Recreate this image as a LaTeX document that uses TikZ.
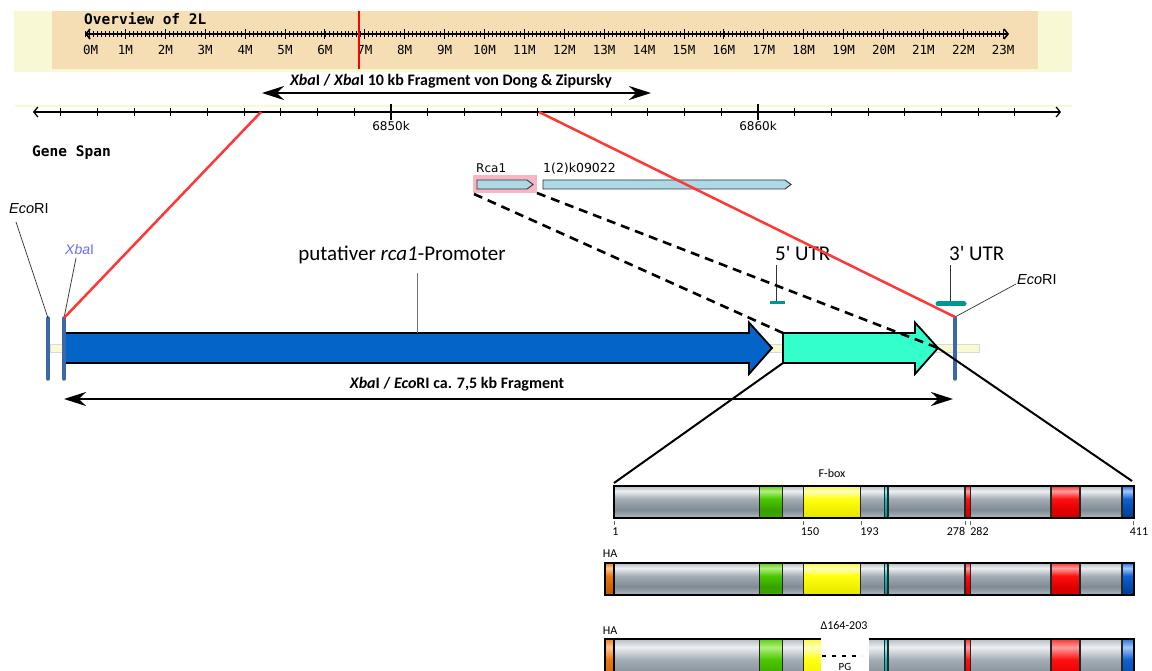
\documentclass[tikz,border=0pt]{standalone}
\usepackage{fontspec}
\setmainfont{Carlito}
\newfontfamily\monof{DejaVu Sans Mono}
\newfontfamily\dvs{DejaVu Sans}
\newfontfamily\arialf{Liberation Sans}
\usetikzlibrary{arrows.meta}
\definecolor{paleyel}{RGB}{249,248,212}
\definecolor{tanc}{RGB}{245,222,180}
\definecolor{genblue}{RGB}{173,216,230}
\definecolor{hlpink}{RGB}{246,182,196}
\definecolor{arrblue}{RGB}{5,100,200}
\definecolor{arrcyan}{RGB}{51,255,204}
\definecolor{markblue}{RGB}{60,105,165}
\definecolor{redln}{RGB}{255,55,55}
\definecolor{tealc}{RGB}{0,150,150}
\definecolor{xbacol}{RGB}{107,107,255}
\definecolor{paleband}{RGB}{250,250,210}
% bar shading colours
\definecolor{gA}{HTML}{B3BAC1}\definecolor{gB}{HTML}{7F8A94}\definecolor{gC}{HTML}{A5ADB5}\definecolor{gD}{HTML}{EDF0F2}\definecolor{gE}{HTML}{B5BCC3}
\definecolor{nA}{HTML}{3FA800}\definecolor{nB}{HTML}{38A000}\definecolor{nC}{HTML}{4CC800}\definecolor{nD}{HTML}{B0F080}\definecolor{nE}{HTML}{5CD010}
\definecolor{yA}{HTML}{E6E600}\definecolor{yB}{HTML}{F0F000}\definecolor{yC}{HTML}{FFFF10}\definecolor{yD}{HTML}{FFFFC0}\definecolor{yE}{HTML}{F8F840}
\definecolor{rA}{HTML}{D00000}\definecolor{rB}{HTML}{E00000}\definecolor{rC}{HTML}{FF1010}\definecolor{rD}{HTML}{FFA0A0}\definecolor{rE}{HTML}{FF3030}
\definecolor{bA}{HTML}{003A90}\definecolor{bB}{HTML}{004AB0}\definecolor{bC}{HTML}{1060D0}\definecolor{bD}{HTML}{A0C8FF}\definecolor{bE}{HTML}{3070D8}
\definecolor{oA}{HTML}{C05800}\definecolor{oB}{HTML}{D06400}\definecolor{oC}{HTML}{E87810}\definecolor{oD}{HTML}{FFC890}\definecolor{oE}{HTML}{E88020}
\definecolor{cA}{HTML}{009A9A}\definecolor{cB}{HTML}{00A8A8}\definecolor{cC}{HTML}{00C8C8}\definecolor{cD}{HTML}{90F0F0}\definecolor{cE}{HTML}{20C0C0}
\newcommand\barshade[6]{\pgfdeclareverticalshading{#1}{100bp}{color(0bp)=(#2); color(25bp)=(#2); color(38bp)=(#3); color(55bp)=(#4); color(67bp)=(#5); color(75bp)=(#6); color(100bp)=(#6)}}
\barshade{shgrey}{gA}{gB}{gC}{gD}{gE}
\barshade{shgreen}{nA}{nB}{nC}{nD}{nE}
\barshade{shyellow}{yA}{yB}{yC}{yD}{yE}
\barshade{shred}{rA}{rB}{rC}{rD}{rE}
\barshade{shblue}{bA}{bB}{bC}{bD}{bE}
\barshade{shorange}{oA}{oB}{oC}{oD}{oE}
\barshade{shcyan}{cA}{cB}{cC}{cD}{cE}
\newcommand\pseg[5]{\shade[shading=#5] (#1,#3) rectangle (#2,#4); \draw[segline] (#1,#3) rectangle (#2,#4);}
\newcommand\prow[2]{%
  \foreach \a/\b/\s in {614/759.5/shgrey, 759.5/782.5/shgreen, 782.5/803.3/shgrey, 803.3/860.6/shyellow, 860.6/884.5/shgrey, 884.5/888/shcyan, 888/965/shgrey, 965/970.5/shred, 970.5/1051/shgrey, 1051/1080/shred, 1080/1122/shgrey, 1122/1134/shblue}{\pseg{\a}{\b}{#1}{#2}{\s}}%
  \draw[line width=1.6pt] (614,#1) rectangle (1134,#2);}
\tikzset{
  lbl/.style={inner sep=0pt, anchor=base},
  segline/.style={draw=black!85, line width=1.3pt},
  marker/.style={draw=markblue, line width=3.5pt, line cap=round},
  zoomln/.style={draw=redln, line width=2.5pt},
  dashln/.style={draw=black, line width=2.6pt, dash pattern=on 9pt off 6pt},
  expln/.style={draw=black, line width=2pt},
  leader/.style={draw=black!80, line width=0.7pt},
  fragarrow/.style={line width=2.2pt, {Stealth[length=22pt,width=14pt]}-{Stealth[length=22pt,width=14pt]}},
  rulerarrow/.style={{Straight Barb[length=4pt,width=10pt]}-{Straight Barb[length=4pt,width=10pt]}},
  genebox/.style={draw=black!80, fill=genblue, line width=0.9pt},
  bigarrow/.style={draw=black, line width=1.8pt, line join=miter},
}
\begin{document}
\begin{tikzpicture}[x=1pt,y=-1pt]
\useasboundingbox (0,0) rectangle (1152,671);
\clip (0,0) rectangle (1152,671);
\fill[white] (0,0) rectangle (1152,671);

% ---------- overview band ----------
\fill[paleyel] (14,11) rectangle (1072,72);
\fill[tanc] (52,11) rectangle (1038,69);
\node[lbl, anchor=base west, font=\monof\bfseries\fontsize{14.5}{15}\selectfont] (ovt) at (84,25) {Overview of 2L};
\coordinate (ovL) at (85,34);
\coordinate (ovR) at (1009,34);
\draw[line width=1.6pt, rulerarrow] (ovL) -- (ovR);
\foreach \i in {0,...,229} {\draw[line width=0.7pt] ({85.5+\i*39.9/10},31) -- ({85.5+\i*39.9/10},37);}
\foreach \i in {1,...,23} {\draw[line width=1pt] ({85.5+\i*39.9},29) -- ({85.5+\i*39.9},39);}
\node[lbl, anchor=base west, font=\monof\fontsize{12.5}{13}\selectfont] at (83,55) {0M};
\foreach \i in {1,...,23} {\node[lbl, font=\monof\fontsize{12.5}{13}\selectfont] at ({85.5+\i*39.9},55) {\i M};}
\draw[red, line width=2.6pt] (359,11) -- (359,69);

% ---------- Dong & Zipursky fragment ----------
\coordinate (fragL) at (262,93);
\coordinate (fragR) at (651,93);
\draw[fragarrow] (fragL) -- (fragR);
\node[lbl, font=\bfseries\fontsize{16}{16}\selectfont] (fragt) at (451,86) {\textit{Xba}I / \textit{Xba}I 10 kb Fragment von Dong \& Zipursky};

% ---------- kb ruler ----------
\draw[paleyel, line width=2pt] (15,106) -- (1072,106);
\coordinate (kbL) at (33,112);
\coordinate (kbR) at (1061,112);
\draw[line width=1.3pt, rulerarrow] (kbL) -- (kbR);
\foreach \i in {-9,...,17} {\draw[line width=0.9pt] ({391+\i*36.7},108) -- ({391+\i*36.7},116);}
\draw[line width=1.1pt] (391,104) -- (391,120);
\draw[line width=1.1pt] (758,104) -- (758,120);
\node[lbl, font=\dvs\fontsize{12}{12}\selectfont] at (391,131) {6850k};
\node[lbl, font=\dvs\fontsize{12}{12}\selectfont] at (758,131) {6860k};
\coordinate (kbA) at (261,112);
\coordinate (kbB) at (539,112);

% ---------- gene span ----------
\node[lbl, anchor=base west, font=\monof\bfseries\fontsize{14.5}{15}\selectfont] at (32,157) {Gene Span};
\fill[hlpink] (473,175) rectangle (537,193);
\coordinate (hlBL) at (474,194);
\coordinate (hlBR) at (537,193);
\draw[genebox] (477,180) -- (527,180) -- (533,184.5) -- (527,189) -- (477,189) -- cycle;
\draw[genebox] (543,180) -- (785,180) -- (791,184.5) -- (785,189) -- (543,189) -- cycle;
\node[lbl, anchor=base west, font=\dvs\fontsize{12}{12}\selectfont] at (476,173) {Rca1};
\node[lbl, anchor=base west, font=\dvs\fontsize{12.5}{12}\selectfont] at (543,173) {1(2)k09022};

% ---------- gene map ----------
\draw[fill=paleband, draw=black!15, line width=0.5pt] (50,344) rectangle (979,352);
\draw[bigarrow, fill=arrblue] (65,333) -- (749,333) -- (749,322.5) -- (772,348) -- (749,374) -- (749,363) -- (65,363) -- cycle;
\draw[bigarrow, fill=arrcyan] (783,333) -- (915,333) -- (915,322.5) -- (938,348) -- (915,374) -- (915,363) -- (783,363) -- cycle;
\coordinate (cyTL) at (783,333);
\coordinate (cyBL) at (783,363);
\coordinate (cyTip) at (938,348);
\coordinate (ecoL) at (48,318);
\coordinate (xbaM) at (64,318);
\coordinate (ecoR) at (955,317);
\draw[marker] (48,318) -- (48,379);
\draw[marker] (64,318) -- (64,379);
\draw[marker] (955,318) -- (955,379);

% labels of the map
\node[lbl, font=\fontsize{21}{21}\selectfont] (prom) at (402,261) {putativer \textit{rca1}-Promoter};
\draw[draw=black!55, line width=0.7pt] (417,273) -- (417,333);
\node[lbl, anchor=base west, font=\fontsize{21}{21}\selectfont] (utr5) at (775,261) {5\textquotesingle{} UTR};
\node[lbl, anchor=base west, font=\fontsize{21}{21}\selectfont] (utr3) at (949,261) {3\textquotesingle{} UTR};
\draw[leader] (776,265) -- (776,302);
\draw[tealc, line width=3.3pt] (770,302.5) -- (785,302.5);
\draw[leader] (950,265) -- (950,302);
\draw[tealc, line width=5pt, line cap=round] (938,304) -- (964,304);
\node[lbl, anchor=base west, font=\arialf\fontsize{14.5}{15}\selectfont] (ecoRt) at (1017,284) {\textit{Eco}RI};
\node[lbl, anchor=base west, font=\arialf\fontsize{14.5}{15}\selectfont] (ecoLt) at (9,214) {\textit{Eco}RI};
\node[lbl, anchor=base west, font=\arialf\fontsize{14}{15}\selectfont, text=xbacol] (xbat) at (65,255) {\textit{Xba}I};
\draw[leader] (16,222) -- (ecoL);
\draw[leader] (76,258) -- (xbaM);
\draw[leader] (1016,284) -- (ecoR);

% zoom lines
\draw[zoomln] (kbA) -- (xbaM);
\draw[zoomln] (kbB) -- (ecoR);
\draw[dashln] (hlBL) -- (cyTL);
\draw[dashln] (hlBR) -- (cyTip);

% 7.5 kb fragment
\coordinate (f2L) at (64,399);
\coordinate (f2R) at (953,399);
\draw[fragarrow] (f2L) -- (f2R);
\node[lbl, font=\bfseries\fontsize{16}{16}\selectfont] at (457,388) {\textit{Xba}I / \textit{Eco}RI ca. 7,5 kb Fragment};

% ---------- protein bars ----------
\coordinate (p1L) at (614,483);
\coordinate (p1R) at (1132,481);
\draw[expln] (cyBL) -- (p1L);
\draw[expln] (cyTip) -- (p1R);

\prow{486}{518}
\node[lbl, font=\fontsize{12}{12}\selectfont] at (832,477) {F-box};
\foreach \x in {614.5,803.5,861,965.5,970.5,1133.5} {\draw[black!60, line width=0.6pt] (\x,521) -- (\x,525);}
\node[lbl, font=\fontsize{12}{12}\selectfont] at (615.5,535) {1};
\node[lbl, font=\fontsize{12}{12}\selectfont] at (810,535) {150};
\node[lbl, font=\fontsize{12}{12}\selectfont] at (869.5,535) {193};
\node[lbl, font=\fontsize{12}{12}\selectfont] at (956,535) {278};
\node[lbl, font=\fontsize{12}{12}\selectfont] at (979.5,535) {282};
\node[lbl, font=\fontsize{12}{12}\selectfont] at (1139,535) {411};

\node[lbl, font=\fontsize{12}{12}\selectfont] at (610,557) {HA};
\pseg{605}{614}{563}{595}{shorange}
\prow{563}{595}
\draw[line width=1.6pt] (605,563) rectangle (1134,595);

\node[lbl, font=\fontsize{12}{12}\selectfont] at (610,634) {HA};
\pseg{605}{614}{639}{690}{shorange}
\prow{639}{690}
\draw[line width=1.6pt] (605,639) rectangle (1134,690);
\fill[white] (820.5,636) rectangle (869,675);
\node[lbl, font=\fontsize{12}{12}\selectfont] at (844,629) {Δ164-203};
\draw[line width=1.8pt, dash pattern=on 4pt off 6pt] (822,656) -- (862,656);
\node[lbl, font=\fontsize{11}{11}\selectfont] at (845,670) {PG};
\end{tikzpicture}
\end{document}
